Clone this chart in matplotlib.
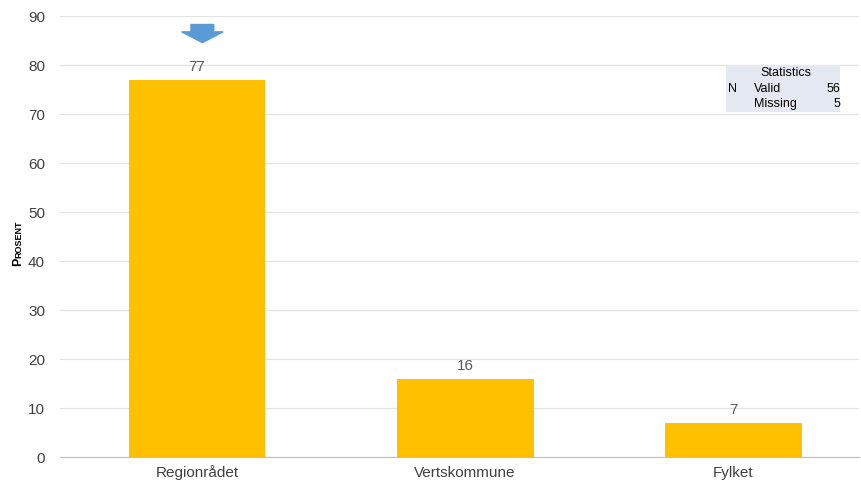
import numpy as np
import matplotlib.pyplot as plt
from matplotlib.patches import Rectangle, FancyArrow

plt.rcParams['font.family'] = ['Liberation Sans', 'DejaVu Sans']

categories = ['Regionrådet', 'Vertskommune', 'Fylket']
values = [77, 16, 7]
stat_rows = [('N', 'Valid', '56'), ('', 'Missing', '5')]

fig = plt.figure(figsize=(8.61, 4.90), dpi=100)
ax = fig.add_axes([0.070, 0.067, 0.928, 0.900])

x = np.arange(len(categories))
ax.bar(x, values, width=0.51, color='#ffc000', zorder=2)
for i, v in enumerate(values):
    ax.text(i, v + 1.2, str(v), ha='center', va='bottom', fontsize=11, color='#595959')

ax.set_xlim(-0.51, 2.47)
ax.set_ylim(0, 90)
ax.set_yticks(np.arange(0, 91, 10))
ax.set_xticks(x)
ax.set_xticklabels(categories)
ax.tick_params(axis='both', length=0, labelsize=11, labelcolor='#404040')
ax.tick_params(axis='y', pad=11)
ax.tick_params(axis='x', pad=6)
ax.grid(axis='y', color='#e3e3e3', linewidth=0.9, zorder=0)
for s in ['top', 'right', 'left']:
    ax.spines[s].set_visible(False)
ax.spines['bottom'].set_color('#bfbfbf')

# y label in small caps
fig.text(0.0205, 0.465, 'P', rotation=90, fontsize=9, fontweight='bold', ha='center', va='center')
fig.text(0.0215, 0.511, 'ROSENT', rotation=90, fontsize=6.5, fontweight='bold', ha='center', va='center')

# blue arrow above first bar
ax.add_patch(FancyArrow(0.02, 88.3, 0, -3.7, width=0.085, head_width=0.155,
                        head_length=2.2, length_includes_head=True,
                        color='#5b9bd5', zorder=3, clip_on=False))

# statistics box
bx, by, bw, bh = 726 / 861, 1 - 112 / 490, 114 / 861, 47 / 490
fig.patches.append(Rectangle((bx, by), bw, bh, transform=fig.transFigure,
                             facecolor='#e4e9f1', edgecolor='none', zorder=5))
fig.text(bx + bw / 2 + 0.003, by + bh - 0.017, 'Statistics', fontsize=9, ha='center', va='center', zorder=6)
for j, (a, b, c) in enumerate(stat_rows):
    yy = by + bh - 0.049 - j * 0.031
    fig.text(bx + 0.002, yy, a, fontsize=9, ha='left', va='center', zorder=6)
    fig.text(bx + 0.033, yy, b, fontsize=9, ha='left', va='center', zorder=6)
    fig.text(bx + bw + 0.0, yy, c, fontsize=9, ha='right', va='center', zorder=6)

fig.savefig('out.png', dpi=100, facecolor='white')
